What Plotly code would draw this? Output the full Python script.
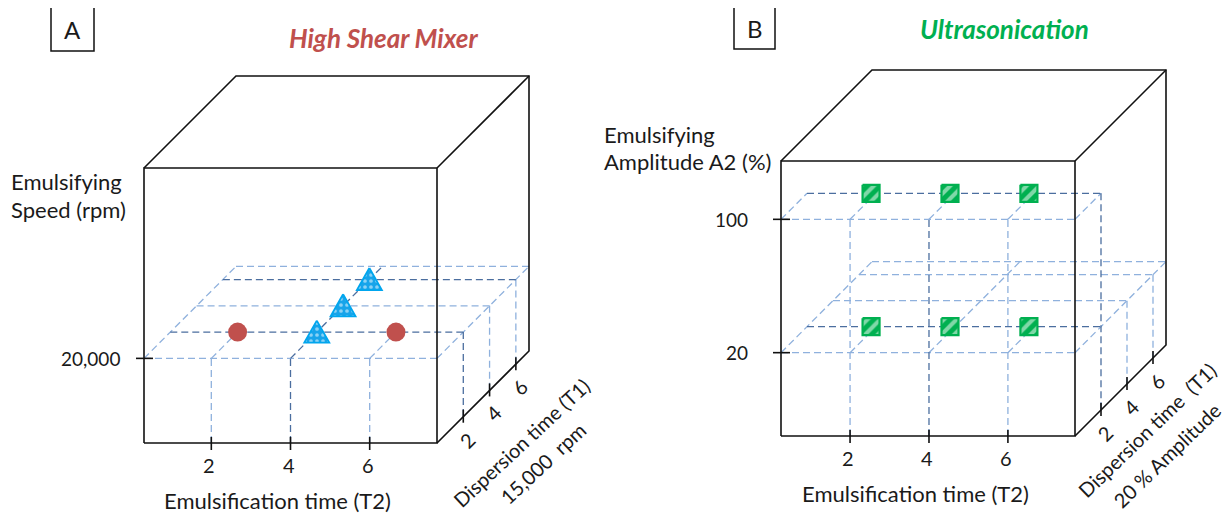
import plotly.graph_objects as go

# ---------------- data ----------------
t2_ticks = [2, 4, 6]
t2_tick_labels = ["2", "4", "6"]
t1_ticks = [2, 4, 6]
t1_tick_labels = ["2", "4", "6"]
speed_ticks = [20000]
speed_tick_labels = ["20,000"]
amp_ticks = [20, 100]
amp_tick_labels = ["20", "100"]

# Panel A: High Shear Mixer design points (T2, T1, speed)
hsm_circle_t2 = [2, 6]
hsm_circle_t1 = [2, 2]
hsm_circle_speed = [20000, 20000]
hsm_tri_t2 = [4, 4, 4]
hsm_tri_t1 = [2, 4, 6]
hsm_tri_speed = [20000, 20000, 20000]

# Panel B: Ultrasonication design points (T2, T1, amplitude)
us_sq_t2 = [2, 4, 6, 2, 4, 6]
us_sq_t1 = [2, 2, 2, 2, 2, 2]
us_sq_amp = [100, 100, 100, 20, 20, 20]

# ---------------- geometry (oblique projection of each cube) ----------------
W, H = 1232, 517
PAGE_OFF = 8  # default page body margin
FONT = "Lato"
PANEL_A = dict(x0=144, ybot=443, w=293, h=275, depth=92,
               t2=(0.3, 7.7), t1=(0, 7), z=(12000, 38000))
PANEL_B = dict(x0=781, ybot=436, w=294, h=275, depth=91,
               t2=(0.25, 7.7), t1=(0, 7), z=(-30, 135))

LIGHT = "#8FB1DD"
DARK = "#4B6E9F"
STYLES = {
    "light": dict(color=LIGHT, width=1.3, dash="7px,4px"),
    "dark": dict(color=DARK, width=1.3, dash="7px,4px"),
    "cube": dict(color="#111111", width=1.6),
}


def proj(p, t2, t1, z):
    fx = (t2 - p["t2"][0]) / (p["t2"][1] - p["t2"][0])
    fd = (t1 - p["t1"][0]) / (p["t1"][1] - p["t1"][0])
    fz = (z - p["z"][0]) / (p["z"][1] - p["z"][0])
    return (p["x0"] + fx * p["w"] + fd * p["depth"],
            p["ybot"] - fz * p["h"] - fd * p["depth"])


lines = {k: ([], []) for k in STYLES}


def add_seg(style, pts):
    xs, ys = lines[style]
    for x, y in pts:
        xs.append(x)
        ys.append(y)
    xs.append(None)
    ys.append(None)


def add3(style, p, *pts):
    add_seg(style, [proj(p, *q) for q in pts])


def cube(p):
    a, b = p["t2"]
    d0, d1 = p["t1"]
    z0, z1 = p["z"]
    add3("cube", p, (a, d0, z0), (b, d0, z0), (b, d0, z1), (a, d0, z1), (a, d0, z0))
    add3("cube", p, (a, d0, z1), (a, d1, z1), (b, d1, z1), (b, d1, z0), (b, d0, z0))
    add3("cube", p, (b, d0, z1), (b, d1, z1))


def ticks(p, zt):
    a, b = p["t2"]
    z0 = p["z"][0]
    for t in t2_ticks:
        x, y = proj(p, t, 0, z0)
        add_seg("cube", [(x, y - 6), (x, y + 7)])
    for t in t1_ticks:
        x, y = proj(p, b, t, z0)
        add_seg("cube", [(x, y - 7), (x, y + 6)])
    for z in zt:
        x, y = proj(p, a, 0, z)
        add_seg("cube", [(x - 8, y), (x + 9, y)])


# ---- panel A grid (plane at 20,000 rpm) ----
pA = PANEL_A
a, b = pA["t2"]
d1 = pA["t1"][1]
z0 = pA["z"][0]
zs = speed_ticks[0]
add3("light", pA, (a, 0, zs), (b, 0, zs))
for t, st in zip(t1_ticks, ["dark", "light", "dark"]):
    add3(st, pA, (a, t, zs), (b, t, zs))
add3("light", pA, (a, d1, zs), (b, d1, zs))
add3("light", pA, (a, 0, zs), (a, d1, zs))
add3("light", pA, (b, 0, zs), (b, d1, zs))
for t, st, full in zip(t2_ticks, ["light", "dark", "light"], [False, True, False]):
    add3(st, pA, (t, 0, z0), (t, 0, zs))
    add3(st, pA, (t, 0, zs), (t, d1 if full else t1_ticks[0], zs))
for t, st in zip(t1_ticks, ["dark", "light", "light"]):
    add3(st, pA, (b, t, zs), (b, t, z0))

# ---- panel B grid (planes at 20 % and 100 %) ----
pB = PANEL_B
a, b = pB["t2"]
d1 = pB["t1"][1]
z0 = pB["z"][0]
zlo, zhi = amp_ticks
# upper plane
add3("light", pB, (a, 0, zhi), (b, 0, zhi))
add3("dark", pB, (a, t1_ticks[0], zhi), (b, t1_ticks[0], zhi))
add3("light", pB, (a, 0, zhi), (a, t1_ticks[0], zhi))
add3("light", pB, (b, 0, zhi), (b, t1_ticks[0], zhi))
for t in t2_ticks:
    add3("light", pB, (t, 0, zhi), (t, t1_ticks[0], zhi))
add3("dark", pB, (b, t1_ticks[0], zhi), (b, t1_ticks[0], z0))
# lower plane
add3("light", pB, (a, 0, zlo), (b, 0, zlo))
for t, st in zip(t1_ticks, ["dark", "light", "light"]):
    add3(st, pB, (a, t, zlo), (b, t, zlo))
add3("light", pB, (a, d1, zlo), (b, d1, zlo))
add3("light", pB, (a, 0, zlo), (a, d1, zlo))
add3("light", pB, (b, 0, zlo), (b, d1, zlo))
for t, full in zip(t2_ticks, [False, True, False]):
    add3("light", pB, (t, 0, zlo), (t, d1 if full else t1_ticks[0], zlo))
for t in t1_ticks[1:]:
    add3("light", pB, (b, t, zlo), (b, t, z0))
# verticals from the front bottom edge
for t, st in zip(t2_ticks, ["light", "dark", "light"]):
    add3(st, pB, (t, 0, z0), (t, 0, zhi))

for p, zt in ((pA, speed_ticks), (pB, amp_ticks)):
    cube(p)
    ticks(p, zt)

fig = go.Figure()
for key in ["light", "dark", "cube"]:
    xs, ys = lines[key]
    fig.add_trace(go.Scatter(x=xs, y=ys, mode="lines", line=STYLES[key],
                             hoverinfo="skip", showlegend=False))

# ---- markers ----
# triangles (dotted fill)
tx, ty = [], []
for t2, t1, z in zip(hsm_tri_t2, hsm_tri_t1, hsm_tri_speed):
    cx, cy = proj(pA, t2, t1, z)
    for dx, dy in [(0, -11.5), (12.5, 10.5), (-12.5, 10.5), (0, -11.5)]:
        tx.append(cx + dx)
        ty.append(cy + dy)
    tx.append(None)
    ty.append(None)
fig.add_trace(go.Scatter(x=tx, y=ty, mode="lines", fill="toself",
                         line=dict(color="#00A6EE", width=1.8),
                         fillcolor="#1DA7EA",
                         fillpattern=dict(shape=".", fgcolor="#FFFFFF", bgcolor="#17A4EA",
                                          size=6, solidity=0.3),
                         hoverinfo="skip", showlegend=False))

# circles
cxs, cys = [], []
for t2, t1, z in zip(hsm_circle_t2, hsm_circle_t1, hsm_circle_speed):
    cx, cy = proj(pA, t2, t1, z)
    cxs.append(cx)
    cys.append(cy)
fig.add_trace(go.Scatter(x=cxs, y=cys, mode="markers",
                         marker=dict(size=19, color="#C0504D", line=dict(width=0)),
                         hoverinfo="skip", showlegend=False))

# squares (hatched fill)
sx, sy = [], []
for t2, t1, z in zip(us_sq_t2, us_sq_t1, us_sq_amp):
    cx, cy = proj(pB, t2, t1, z)
    cx -= 5
    for dx, dy in [(-8.5, -8.5), (8.5, -8.5), (8.5, 8.5), (-8.5, 8.5), (-8.5, -8.5)]:
        sx.append(cx + dx)
        sy.append(cy + dy)
    sx.append(None)
    sy.append(None)
fig.add_trace(go.Scatter(x=sx, y=sy, mode="lines", fill="toself",
                         line=dict(color="#00B050", width=2.2),
                         fillcolor="#00B050",
                         fillpattern=dict(shape="/", fgcolor="#FFFFFF", bgcolor="#00B050",
                                          size=9, solidity=0.45),
                         hoverinfo="skip", showlegend=False))

# ---- text ----
ann = []
LBL = 22
ROT = 20
NUM = 19


def text(x, y, s, size=LBL, color="#1A1A1A", xanchor="center", angle=0):
    ann.append(dict(x=x, y=y, text=s, showarrow=False, xanchor=xanchor, yanchor="middle",
                    textangle=angle, font=dict(family=FONT, size=size, color=color)))


for p, zt, zl, gap in ((pA, speed_ticks, speed_tick_labels, 22),
                       (pB, amp_ticks, amp_tick_labels, 31)):
    a, b = p["t2"]
    z0 = p["z"][0]
    for t, lab in zip(t2_ticks, t2_tick_labels):
        x, y = proj(p, t, 0, z0)
        text(x - 2, y + 22, lab, size=NUM + 1)
    for t, lab in zip(t1_ticks, t1_tick_labels):
        x, y = proj(p, b, t, z0)
        text(x + 4, y + 23, lab, size=NUM + 1, angle=-45)
    for z, lab in zip(zt, zl):
        x, y = proj(p, a, 0, z)
        text(x - gap, y, lab, size=NUM, xanchor="right")
    fx, fy = proj(p, (a + b) / 2, 0, z0)
    text(fx - 13, fy + 57, "Emulsification time (T2)")

# panel A labels
text(383, 38, "<b><i>High Shear Mixer</i></b>", size=26, color="#C0504D")
text(9, 181, "Emulsifying", xanchor="left")
text(9, 209, "Speed (rpm)", xanchor="left")
text(521, 443, "Dispersion time (T1)", size=ROT, angle=-43)
text(543, 463, "15,000  rpm", size=ROT, angle=-43)
text(72.5, 29, "A", size=24)

# panel B labels
text(1004, 29, "<b><i>Ultrasonication</i></b>", size=26, color="#00B050")
text(602, 134, "Emulsifying", xanchor="left")
text(602, 161, "Amplitude A2 (%)", xanchor="left")
text(1147, 430, "Dispersion time  (T1)", size=ROT, angle=-44)
text(1167, 455, "20 % Amplitude", size=ROT, angle=-44)
text(754.5, 28, "B", size=24)

shapes = [
    dict(type="rect", x0=51, y0=7, x1=94, y1=51, line=dict(color="#111111", width=1.5)),
    dict(type="rect", x0=734, y0=7, x1=775, y1=49, line=dict(color="#111111", width=1.5)),
]

fig.update_layout(
    width=W, height=H,
    margin=dict(l=0, r=0, t=0, b=0),
    paper_bgcolor="white", plot_bgcolor="white",
    xaxis=dict(range=[PAGE_OFF, W + PAGE_OFF], visible=False, fixedrange=True),
    yaxis=dict(range=[H + PAGE_OFF, PAGE_OFF], visible=False, fixedrange=True),
    annotations=ann, shapes=shapes,
    showlegend=False,
)

fig.write_html("out.html")
